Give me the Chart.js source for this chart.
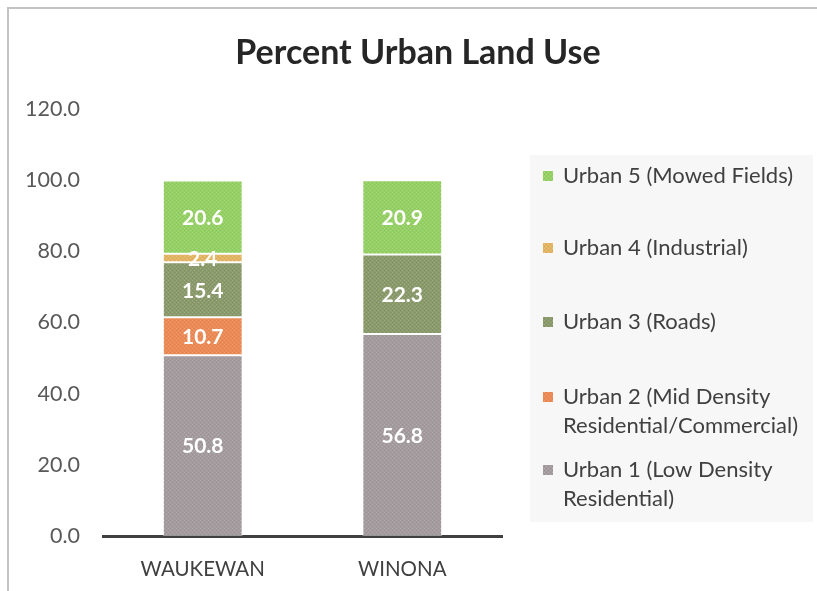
<!DOCTYPE html>
<html>
<head>
<meta charset="utf-8">
<script src="https://cdn.jsdelivr.net/npm/chart.js@4.4.0/dist/chart.umd.min.js"></script>
<style>
  body { margin: 0; background: #fff; }
  canvas { display: block; }
</style>
</head>
<body>
<canvas id="landUseChart" width="817" height="591"></canvas>
<script>
// datos del gráfico
const chartTitle = 'Percent Urban Land Use';
const sites = ['WAUKEWAN', 'WINONA'];
const seriesNames = [
  'Urban 1 (Low Density Residential)',
  'Urban 2 (Mid Density Residential/Commercial)',
  'Urban 3 (Roads)',
  'Urban 4 (Industrial)',
  'Urban 5 (Mowed Fields)'
];
// texto de la leyenda partido en líneas
const legendLines = [
  ['Urban 1 (Low Density', 'Residential)'],
  ['Urban 2 (Mid Density', 'Residential/Commercial)'],
  ['Urban 3 (Roads)'],
  ['Urban 4 (Industrial)'],
  ['Urban 5 (Mowed Fields)']
];
const urban1 = [50.8, 56.8];
const urban2 = [10.7, 0];
const urban3 = [15.4, 22.3];
const urban4 = [2.4, 0];
const urban5 = [20.6, 20.9];
const yTicks = [0, 20, 40, 60, 80, 100, 120];

const baseColors = ['#a39b9d', '#eb8a55', '#8a9a6b', '#e3b563', '#95d064'];
const FONT = 'Lato, "Noto Sans", sans-serif';

// textura de puntos como en Excel
function makePattern(color) {
  const c = document.createElement('canvas');
  c.width = 4; c.height = 4;
  const g = c.getContext('2d');
  g.fillStyle = color;
  g.fillRect(0, 0, 4, 4);
  g.fillStyle = 'rgba(255,255,255,0.18)';
  g.fillRect(0, 0, 1, 1);
  g.fillRect(2, 2, 1, 1);
  g.fillStyle = 'rgba(0,0,0,0.06)';
  g.fillRect(2, 0, 1, 1);
  g.fillRect(0, 2, 1, 1);
  return g.createPattern(c, 'repeat');
}

const seriesData = [urban1, urban2, urban3, urban4, urban5];

const datasets = seriesData.map((d, i) => ({
  label: seriesNames[i],
  data: d,
  backgroundColor: makePattern(baseColors[i]),
  borderColor: 'rgba(255,255,255,0.45)',
  borderWidth: ctx => (ctx.raw ? 1 : 0),
  borderSkipped: false,
  barPercentage: 0.4,
  categoryPercentage: 1.0
}));

// marco exterior y título centrado en todo el lienzo
const framePlugin = {
  id: 'frame',
  beforeDraw(chart) {
    const ctx = chart.ctx;
    ctx.save();
    ctx.fillStyle = '#fff';
    ctx.fillRect(0, 0, chart.width, chart.height);
    ctx.fillStyle = '#c3c3c3';
    ctx.fillRect(7, 7, 2, chart.height - 7);
    ctx.fillRect(7, 7, chart.width - 7, 2);
    ctx.font = 'bold 34px ' + FONT;
    ctx.fillStyle = '#262626';
    ctx.textAlign = 'center';
    ctx.textBaseline = 'middle';
    ctx.fillText(chartTitle, 418, 53);
    ctx.restore();
  }
};

// etiquetas de valor dentro de las barras
const valueLabels = {
  id: 'valueLabels',
  afterDatasetsDraw(chart) {
    const ctx = chart.ctx;
    ctx.save();
    ctx.font = 'bold 21px ' + FONT;
    ctx.fillStyle = '#ffffff';
    ctx.textAlign = 'center';
    ctx.textBaseline = 'middle';
    chart.data.datasets.forEach((ds, i) => {
      const meta = chart.getDatasetMeta(i);
      meta.data.forEach((bar, j) => {
        const v = ds.data[j];
        if (!v) return;
        ctx.fillText(v.toFixed(1), bar.x, (bar.y + bar.base) / 2 + 1);
      });
    });
    ctx.restore();
  }
};

// leyenda a la derecha con fondo gris
const sideLegend = {
  id: 'sideLegend',
  afterDraw(chart) {
    const ctx = chart.ctx;
    ctx.save();
    ctx.fillStyle = '#f7f7f7';
    ctx.fillRect(530, 155, 283, 367);
    const rowY = [470, 397, 322, 248, 176];
    ctx.font = '22px ' + FONT;
    ctx.textBaseline = 'middle';
    ctx.textAlign = 'left';
    chart.data.datasets.forEach((ds, i) => {
      const y = rowY[i];
      ctx.fillStyle = ds.backgroundColor;
      ctx.fillRect(543, y - 5, 10, 10);
      ctx.fillStyle = '#404040';
      legendLines[i].forEach((line, k) => {
        ctx.fillText(line, 563, y + k * 29);
      });
    });
    ctx.restore();
  }
};

new Chart(document.getElementById('landUseChart'), {
  type: 'bar',
  data: { labels: sites, datasets: datasets },
  options: {
    responsive: false,
    animation: false,
    layout: { padding: { left: 0, right: 315, top: 109, bottom: 0 } },
    plugins: {
      legend: { display: false },
      tooltip: { enabled: false },
      title: { display: false }
    },
    scales: {
      x: {
        stacked: true,
        grid: { display: false, drawTicks: false },
        border: { display: true, color: '#404040', width: 3 },
        ticks: { color: '#404040', font: { family: FONT, size: 20.5 }, padding: 21 },
        afterFit(scale) { scale.height = 55; }
      },
      y: {
        stacked: true,
        min: 0,
        max: 120,
        afterBuildTicks(scale) { scale.ticks = yTicks.map(v => ({ value: v })); },
        grid: { display: false, drawTicks: false },
        border: { display: false },
        ticks: {
          color: '#595959',
          font: { family: FONT, size: 21.5 },
          padding: 23,
          callback: v => v.toFixed(1)
        },
        afterFit(scale) { scale.width = 103; }
      }
    }
  },
  plugins: [framePlugin, valueLabels, sideLegend]
});
</script>
</body>
</html>
